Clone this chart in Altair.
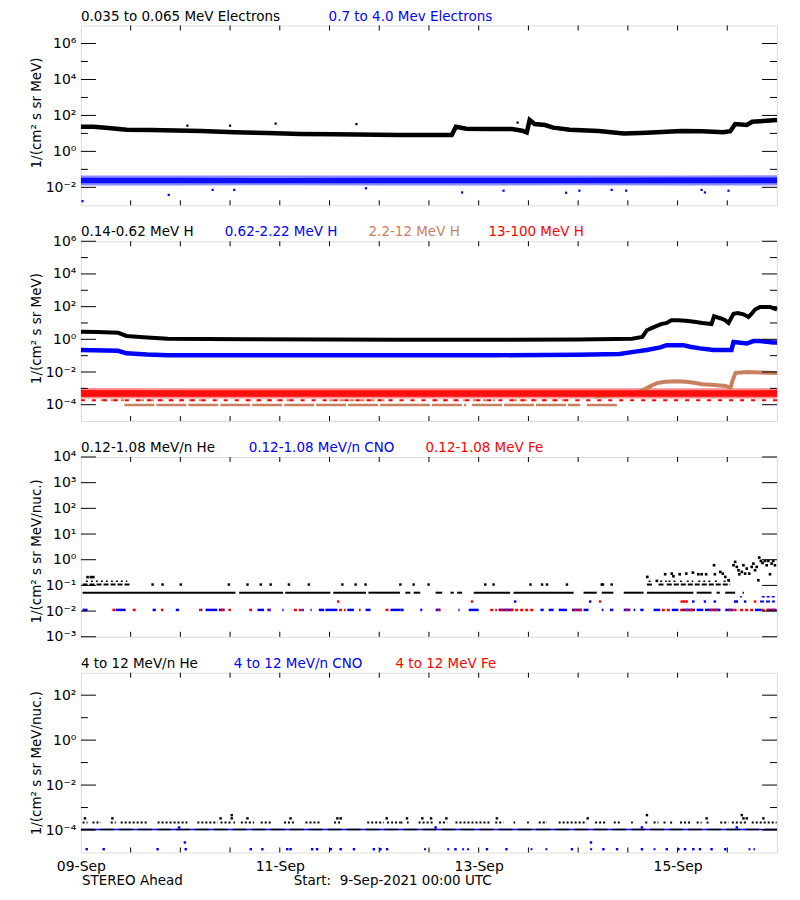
import json
import altair as alt
import pandas as pd

FONT = "DejaVu Sans"
W, H = 697, 180
T_END = 168  # hours from 09-Sep 00:00 UTC to 16-Sep 00:00 UTC

# ---------------- x axis ----------------
X_MINOR = [12, 24, 36, 48, 60, 72, 84, 96, 108, 120, 132, 144, 156]
X_LABEL_T = [0, 48, 96, 144]
X_LABELS = ["09-Sep", "11-Sep", "13-Sep", "15-Sep"]

# ---------------- panel 1 : electrons ----------------
E1_T = [0, 3, 6, 11, 17, 29, 37, 45, 53, 61, 77, 89.5, 90.5, 93, 98, 104, 106.5, 107.6,
        108.3, 109.5, 112, 114, 118, 125, 131, 135, 139, 145, 150, 155, 156.7, 157.9,
        160.7, 162, 165.5, 168]
E1_V = [23.4, 23.4, 20.9, 15.8, 15.5, 13.5, 11.5, 10.5, 9.3, 8.9, 8.1, 8.1, 23.4, 18.2,
        17.4, 17.4, 14.1, 11.2, 55, 33, 29, 21, 15.8, 13.5, 10.0, 10.5, 11.5, 13.8, 13.2,
        11.5, 13.2, 33, 29.5, 44.7, 50, 55]
E1_OUT_T = [25.7, 36.0, 47.0, 66.5, 105.4]
E1_OUT_V = [27, 27, 35, 33, 40]

E2_T = [0, 24, 48, 72, 96, 120, 144, 168]
E2_LO = [0.0125, 0.0125, 0.013, 0.0125, 0.0125, 0.013, 0.0125, 0.0125]
E2_HI = [0.046, 0.045, 0.045, 0.046, 0.046, 0.045, 0.046, 0.047]
E2_CORE_LO = [0.017, 0.017, 0.017, 0.017, 0.017, 0.017, 0.017, 0.017]
E2_CORE_HI = [0.034, 0.034, 0.033, 0.034, 0.034, 0.034, 0.035, 0.035]
E2_OUT_T = [0.4, 21.2, 31.8, 37.0, 68.8, 92.0, 102.0, 117.1, 120.3, 128.1, 131.6, 149.8, 150.6, 156.3]
E2_OUT_V = [0.0017, 0.0038, 0.0072, 0.0072, 0.0089, 0.0052, 0.0065, 0.0050, 0.0065, 0.0072,
            0.0065, 0.0072, 0.0052, 0.0065]

# ---------------- panel 2 : protons ----------------
H1_T = [0, 4, 9, 11, 16, 21, 40, 60, 77, 100, 120, 133, 135.5, 136.6, 138, 140, 141.4,
        142.5, 144, 146, 148, 150, 152.2, 152.8, 154.3, 155.5, 156.3, 157.5, 158.5, 159.9,
        161.1, 161.9, 162.7, 163.9, 166.3, 168]
H1_V = [2.9, 2.8, 2.5, 1.6, 1.3, 1.07, 1.0, 0.98, 0.95, 0.95, 0.98, 1.1, 1.4, 3.6, 5.2,
        8.5, 10.0, 14.8, 14.8, 13.8, 12.0, 10.0, 8.7, 25.7, 19.5, 14.8, 10.0, 37, 40.7, 34,
        23.4, 37, 66, 95, 95, 66]

H2_T = [0, 9, 11, 16, 21, 60, 100, 120, 130, 133.4, 136.6, 139.8, 141.4, 145.4, 147,
        149.4, 152.7, 155.9, 157.0, 157.5, 160.7, 162.3, 163.9, 167.1, 168]
H2_V = [0.22, 0.2, 0.14, 0.117, 0.107, 0.107, 0.107, 0.112, 0.126, 0.17, 0.22, 0.32,
        0.44, 0.44, 0.35, 0.28, 0.22, 0.22, 0.22, 0.69, 0.55, 0.78, 0.78, 0.63, 0.63]

BROWN = "#C9805F"
H3_LATE_T = [124, 130, 134, 136.5, 137.5, 139, 141, 144, 146, 148, 150, 153, 155.5, 156.8,
             157.3, 158, 161, 164, 166, 168]
H3_LATE_V = [3.2e-4, 4.0e-4, 5.0e-4, 1.0e-3, 1.4e-3, 2.1e-3, 2.5e-3, 2.7e-3, 2.5e-3, 2.2e-3,
             1.8e-3, 1.6e-3, 1.4e-3, 1.1e-3, 3.2e-3, 8.9e-3, 1.0e-2, 9.3e-3, 8.9e-3, 8.7e-3]
H3_BASE_LEVEL = 9.5e-5
H3_BASE_SEG = [(10.5, 77.0), (77.0, 93.0), (94.4, 120.5), (122.1, 129.4)]
H3_MID_LEVEL = 1.9e-4
H3_MID_SEG = [(4.8, 10.5), (14.0, 30.0), (40.0, 52.0), (60.0, 75.0), (85.0, 100.0), (104.0, 118.0)]
H3_EARLY_LEVEL = 4.0e-4
H3_EARLY_SEG = [(0.4, 4.0), (5.0, 9.0)]

H4_T = [0, 24, 48, 72, 96, 120, 144, 168]
H4_LO = [2.4e-4, 2.4e-4, 2.4e-4, 2.4e-4, 2.4e-4, 2.4e-4, 2.4e-4, 2.4e-4]
H4_HI = [1.05e-3, 1.0e-3, 1.0e-3, 1.0e-3, 1.0e-3, 1.0e-3, 1.0e-3, 1.0e-3]
H4_CORE_LO = [3.1e-4, 3.1e-4, 3.1e-4, 3.1e-4, 3.1e-4, 3.1e-4, 3.1e-4, 3.1e-4]
H4_CORE_HI = [7.8e-4, 7.6e-4, 7.6e-4, 7.6e-4, 7.6e-4, 7.6e-4, 7.6e-4, 7.8e-4]
H4_LOW_LEVEL = 1.9e-4

# ---------------- panel 3 : 0.12-1.08 MeV/n ions ----------------
HE_LOW_LEVEL = 0.052
HE_LOW_SEG = [(0.4, 37.3), (38.2, 48.8), (49.3, 60.2), (60.9, 68.8), (69.4, 77.0), (78.3, 79.5),
              (80.3, 81.9), (85.6, 87.2), (89.2, 90.0), (90.8, 92.0), (94.8, 103.6),
              (104.4, 118.9), (121.3, 124.5), (125.7, 128.5), (131.0, 135.8), (136.6, 147.8),
              (148.6, 152.2), (153.4, 154.2), (155.5, 157.9), (159.7, 160.0)]
HE_MID_LEVEL = 0.108
HE_MID_SEG = [(0.4, 12.0), (136.6, 138.2), (139.4, 140.6), (141.4, 156.7)]
HE_MID_DOTS = [17.3, 19.7, 24.1, 35.7, 40.2, 43.4, 45.8, 50.2, 55.0, 63.1, 66.3, 68.7, 77.1,
               80.3, 83.9, 97.6, 99.6, 108.5, 111.3, 112.5, 117.3, 125.7, 126.0, 128.1]
HE_UP_LEVEL = 0.145
HE_UP_SEG = [(1.2, 11.2), (137.0, 138.2), (139.8, 141.4), (141.8, 143.8), (144.6, 145.4),
             (146.2, 147.8), (149.0, 152.2), (153.0, 153.9), (155.1, 156.7)]
HE_PTS_T = [1.6, 2.4, 3.0, 136.7, 139.0, 141.0, 142.6, 143.0, 144.5, 146.1, 147.7, 149.0,
            149.8, 150.9, 152.8, 153.0, 154.3, 154.9, 155.5, 156.3, 157.5, 157.9, 158.3,
            158.7, 158.9, 159.5, 159.9, 160.3, 160.7, 161.3, 161.9, 162.3, 162.7, 163.1,
            163.5, 163.7, 164.1, 164.5, 165.1, 165.5, 165.9, 166.3, 166.7, 167.1, 167.5]
HE_PTS_V = [0.21, 0.21, 0.21, 0.214, 0.15, 0.272, 0.288, 0.227, 0.272, 0.288, 0.315, 0.272,
            0.272, 0.272, 0.609, 0.272, 0.335, 0.288, 0.214, 0.159, 0.609, 0.82, 0.525,
            0.389, 0.272, 0.335, 0.609, 0.288, 0.452, 0.288, 0.525, 0.706, 0.389, 0.525,
            0.159, 1.21, 0.897, 0.75, 0.897, 0.609, 0.897, 0.272, 0.706, 0.897, 0.609]

ION_LEVEL = 0.0111
CNO_SEG = [(0.4, 1.6), (8.4, 10.8), (17.3, 18.1), (22.9, 23.7), (28.9, 29.3), (30.1, 32.9),
           (33.3, 34.7), (42.6, 44.2), (45.0, 45.8), (48.6, 48.9), (53.4, 53.8), (55.4, 55.7),
           (57.4, 58.7), (59.0, 61.9), (64.3, 65.9), (68.7, 69.9), (74.7, 77.1), (77.1, 77.9),
           (81.9, 82.4), (85.6, 86.8), (91.1, 91.4), (93.6, 96.0), (100.8, 104.4),
           (110.9, 111.7), (112.9, 114.1), (115.3, 117.3), (118.5, 120.9), (121.3, 122.5),
           (125.7, 126.1), (127.7, 128.5), (131.0, 132.6), (133.4, 133.8), (135.0, 135.8),
           (138.2, 139.8), (142.6, 144.2), (145.0, 148.2), (148.6, 150.2), (150.6, 154.3),
           (155.5, 157.5), (162.7, 164.3), (165.5, 167.9)]
FE_SEG = [(7.6, 8.4), (12.5, 13.3), (19.3, 19.9), (28.5, 28.9), (33.7, 34.7), (35.6, 36.2),
          (40.6, 41.4), (45.4, 45.8), (51.4, 53.4), (62.3, 63.9), (67.1, 67.5), (73.5, 74.3),
          (86.0, 86.6), (98.8, 100.4), (101.2, 109.3), (118.9, 120.9), (131.4, 132.6),
          (140.2, 142.2), (144.6, 147.8), (151.8, 154.3), (156.3, 158.3), (159.1, 162.3),
          (164.3, 167.9)]
ION_MID_LEVEL = 0.0235
CNO_MID_T = [104.8, 122.9, 147.8, 150.6, 153.0, 157.9, 158.3, 160.3]
FE_MID_T = [62.1, 94.4, 125.3, 145.0, 145.6, 146.2, 162.7]
CNO_MID_SEG = [(163.9, 167.5)]
CNO_HI_LEVEL = 0.036
CNO_HI_SEG = [(159.1, 159.5), (164.3, 167.5)]

# ---------------- panel 4 : 4-12 MeV/n ions ----------------
HE4_LEVEL = 2.15e-4
HE4_SEG = [(0.4, 1.6), (2.8, 4.8), (7.2, 8.4), (9.6, 16.1), (18.5, 25.7), (28.1, 33.0),
           (33.7, 36.2), (36.8, 37.2), (38.6, 41.8), (43.4, 45.8), (49.0, 51.4), (54.2, 57.8),
           (61.1, 62.7), (69.1, 73.1), (73.9, 77.1), (77.1, 77.9), (78.7, 79.1), (81.5, 85.2),
           (86.4, 88.4), (90.4, 98.8), (100.0, 102.0), (104.4, 104.8), (107.7, 108.1),
           (110.5, 112.5), (115.3, 122.1), (124.1, 127.0), (128.6, 130.2), (132.8, 133.2),
           (136.2, 137.0), (138.2, 139.4), (140.6, 141.4), (142.2, 143.0), (144.6, 147.0),
           (148.6, 149.8), (151.0, 151.8), (154.3, 156.3), (157.1, 160.7), (161.9, 167.9)]
HE4_PTS_T = [0.97, 7.6, 33.7, 36.4, 40.2, 50.6, 61.9, 62.7, 73.8, 78.7, 82.4, 84.5, 88.2,
             100.4, 122.3, 151.0, 159.9, 160.7, 164.7, 36.4, 136.6, 159.5]
HE4_PTS_V = [3.3e-4] * 19 + [4.6e-4] * 3
ONE_COUNT = 1.05e-4
CNO4_LOW_LEVEL = 1.4e-5
CNO4_LOW_T = [1.4, 5.5, 18.5, 25.3, 41.0, 43.8, 49.8, 50.6, 55.8, 57.0, 60.3, 62.7, 65.9,
              70.7, 72.3, 73.9, 90.4, 98.0, 102.7, 118.5, 126.1, 129.4, 135.4, 141.4, 144.2,
              145.8, 147.8, 149.4, 152.2, 155.5]
CNO4_LOW_SEG = [(82.8, 83.6), (88.4, 89.2), (92.0, 94.4), (108.5, 109.3), (112.1, 113.3),
                (122.9, 123.7), (138.2, 139.0), (161.1, 162.7)]
CNO4_OTHER_T = [25.1, 123.1, 23.7, 85.6, 135.4, 158.3]
CNO4_OTHER_V = [2.8e-5, 2.8e-5, 1.3e-4, 1.3e-4, 1.3e-4, 1.3e-4]

BLUE, RED = "#0000FF", "#FF0000"
TITLES = [
    [("0.035 to 0.065 MeV Electrons", "black", 0), ("0.7 to 4.0 Mev Electrons", BLUE, 248)],
    [("0.14-0.62 MeV H", "black", 0), ("0.62-2.22 MeV H", BLUE, 144),
     ("2.2-12 MeV H", BROWN, 288), ("13-100 MeV H", RED, 408)],
    [("0.12-1.08 MeV/n He", "black", 0), ("0.12-1.08 MeV/n CNO", BLUE, 168),
     ("0.12-1.08 MeV Fe", RED, 345)],
    [("4 to 12 MeV/n He", "black", 0), ("4 to 12 MeV/n CNO", BLUE, 153),
     ("4 to 12 MeV Fe", RED, 315)],
]
FOOTER = [("STEREO Ahead", 1), ("Start:\u00a0 9-Sep-2021 00:00 UTC", 213)]

SUP = str.maketrans("-0123456789", "⁻⁰¹²³⁴⁵⁶⁷⁸⁹")
EXP_RANGE = list(range(-5, 8))
SUP_ARR = json.dumps(["10" + str(e).translate(SUP) for e in EXP_RANGE], ensure_ascii=False)
Y_LABEL_EXPR = SUP_ARR + "[round(log(datum.value)/LN10)+5]"
X_LABEL_EXPR = "".join(f"datum.value=={t}?'{l}':" for t, l in zip(X_LABEL_T, X_LABELS)) + "''"


def df_line(t, v):
    return pd.DataFrame({"t": t, "v": v})


def df_seg(segs, level):
    return pd.DataFrame({"t": [a for a, b in segs], "t2": [b for a, b in segs],
                         "v": [level] * len(segs)})


def df_band(t, lo, hi):
    return pd.DataFrame({"t": t, "v": lo, "v2": hi})


def panel(layers_fn, ydomain, label_vals, minor_vals, ytitle, title_y, titles, bottom=False):
    xs = alt.Scale(domain=[0, T_END], nice=False, zero=False)
    ys = alt.Scale(type="log", domain=ydomain, nice=False)
    if bottom:
        xaxis = alt.Axis(values=X_LABEL_T, labelExpr=X_LABEL_EXPR, ticks=False, domain=False,
                         grid=False, labelFontSize=14, labelPadding=7, labelFlush=False,
                         labelColor="black", title=None, labelFont=FONT)
    else:
        xaxis = None
    yaxis = alt.Axis(values=label_vals, labelExpr=Y_LABEL_EXPR, ticks=False, domain=False,
                     grid=False, labelFontSize=14, labelPadding=5, labelFlush=False,
                     labelOverlap=False, labelColor="black", labelFont=FONT,
                     title=ytitle, titleX=-44, titleY=title_y, titleAngle=270,
                     titleAlign="center", titleBaseline="middle", titleFontSize=13.5,
                     titleFontWeight="normal", titleFont=FONT, titleColor="black")

    def X():
        return alt.X("t:Q", scale=xs, axis=xaxis, title=None)

    def Y():
        return alt.Y("v:Q", scale=ys, axis=yaxis)

    layers = layers_fn(X, Y)

    # inside ticks (IDL style)
    xt = pd.DataFrame({"t": X_MINOR})
    layers.append(alt.Chart(xt).mark_rule(color="black", strokeWidth=1).encode(
        x=X(), y=alt.value(0), y2=alt.value(5)))
    layers.append(alt.Chart(xt).mark_rule(color="black", strokeWidth=1).encode(
        x=X(), y=alt.value(H), y2=alt.value(H - 5)))
    for vals, ln in ((label_vals, 15), (minor_vals, 7)):
        if not vals:
            continue
        yt = pd.DataFrame({"v": vals})
        layers.append(alt.Chart(yt).mark_rule(color="black", strokeWidth=1).encode(
            y=Y(), x=alt.value(0), x2=alt.value(ln)))
        layers.append(alt.Chart(yt).mark_rule(color="black", strokeWidth=1).encode(
            y=Y(), x=alt.value(W), x2=alt.value(W - ln)))

    one = pd.DataFrame({"a": [0]})
    for txt, col, px in titles:
        layers.append(alt.Chart(one).mark_text(
            text=txt, color=col, fontSize=13.5, font=FONT, align="left", baseline="alphabetic"
        ).encode(x=alt.value(px), y=alt.value(-5)))
    if bottom:
        for txt, px in FOOTER:
            layers.append(alt.Chart(one).mark_text(
                text=txt, color="black", fontSize=13.5, font=FONT, align="left",
                baseline="alphabetic").encode(x=alt.value(px), y=alt.value(H + 33)))
    return alt.layer(*layers).properties(width=W, height=H)


def p1_layers(X, Y):
    return [
        alt.Chart(df_band(E2_T, E2_LO, E2_HI)).mark_area(color=BLUE, opacity=0.45).encode(
            x=X(), y=Y(), y2="v2:Q"),
        alt.Chart(df_band(E2_T, E2_CORE_LO, E2_CORE_HI)).mark_area(color=BLUE, opacity=0.9).encode(
            x=X(), y=Y(), y2="v2:Q"),
        alt.Chart(df_line(E2_OUT_T, E2_OUT_V)).mark_square(color=BLUE, size=5, opacity=1).encode(
            x=X(), y=Y()),
        alt.Chart(df_line(E1_T, E1_V)).mark_line(color="black", strokeWidth=4.5).encode(
            x=X(), y=Y()),
        alt.Chart(df_line(E1_OUT_T, E1_OUT_V)).mark_square(color="black", size=5, opacity=1).encode(
            x=X(), y=Y()),
    ]


def p2_layers(X, Y):
    return [
        alt.Chart(df_seg(H3_BASE_SEG, H3_BASE_LEVEL)).mark_rule(color=BROWN, strokeWidth=2.5,
                                                                 strokeDash=[30, 2]).encode(
            x=X(), x2="t2:Q", y=Y()),
        alt.Chart(df_seg(H3_MID_SEG, H3_MID_LEVEL)).mark_rule(color=BROWN, strokeWidth=2,
                                                               strokeDash=[5, 5]).encode(
            x=X(), x2="t2:Q", y=Y()),
        alt.Chart(df_seg(H3_EARLY_SEG, H3_EARLY_LEVEL)).mark_rule(color=BROWN, strokeWidth=3).encode(
            x=X(), x2="t2:Q", y=Y()),
        alt.Chart(df_seg([(0, T_END)], H4_LOW_LEVEL)).mark_rule(color=RED, strokeWidth=2,
                                                                 strokeDash=[4, 7]).encode(
            x=X(), x2="t2:Q", y=Y()),
        alt.Chart(df_band(H4_T, H4_LO, H4_HI)).mark_area(color=RED, opacity=0.45).encode(
            x=X(), y=Y(), y2="v2:Q"),
        alt.Chart(df_line(H3_LATE_T, H3_LATE_V)).mark_line(color=BROWN, strokeWidth=4).encode(
            x=X(), y=Y()),
        alt.Chart(df_band(H4_T, H4_CORE_LO, H4_CORE_HI)).mark_area(color=RED, opacity=0.9).encode(
            x=X(), y=Y(), y2="v2:Q"),
        alt.Chart(df_line(H2_T, H2_V)).mark_line(color=BLUE, strokeWidth=4.5).encode(
            x=X(), y=Y()),
        alt.Chart(df_line(H1_T, H1_V)).mark_line(color="black", strokeWidth=4).encode(
            x=X(), y=Y()),
    ]


def p3_layers(X, Y):
    return [
        alt.Chart(df_seg(CNO_SEG, ION_LEVEL)).mark_rule(color=BLUE, strokeWidth=2.5).encode(
            x=X(), x2="t2:Q", y=Y()),
        alt.Chart(df_seg(FE_SEG, ION_LEVEL)).mark_rule(color=RED, strokeWidth=2.5,
                                                       strokeDash=[3, 2]).encode(
            x=X(), x2="t2:Q", y=Y()),
        alt.Chart(df_line(CNO_MID_T, [ION_MID_LEVEL] * len(CNO_MID_T))).mark_square(
            color=BLUE, size=6, opacity=1).encode(x=X(), y=Y()),
        alt.Chart(df_seg(CNO_MID_SEG, ION_MID_LEVEL)).mark_rule(color=BLUE, strokeWidth=2,
                                                                strokeDash=[4, 2]).encode(
            x=X(), x2="t2:Q", y=Y()),
        alt.Chart(df_line(FE_MID_T, [ION_MID_LEVEL] * len(FE_MID_T))).mark_square(
            color=RED, size=6, opacity=1).encode(x=X(), y=Y()),
        alt.Chart(df_seg(CNO_HI_SEG, CNO_HI_LEVEL)).mark_rule(color=BLUE, strokeWidth=1.5,
                                                              strokeDash=[3, 2]).encode(
            x=X(), x2="t2:Q", y=Y()),
        alt.Chart(df_seg(HE_LOW_SEG, HE_LOW_LEVEL)).mark_rule(color="black", strokeWidth=2).encode(
            x=X(), x2="t2:Q", y=Y()),
        alt.Chart(df_seg(HE_MID_SEG, HE_MID_LEVEL)).mark_rule(color="black", strokeWidth=2,
                                                              strokeDash=[5, 2]).encode(
            x=X(), x2="t2:Q", y=Y()),
        alt.Chart(df_line(HE_MID_DOTS, [HE_MID_LEVEL] * len(HE_MID_DOTS))).mark_square(
            color="black", size=6, opacity=1).encode(x=X(), y=Y()),
        alt.Chart(df_seg(HE_UP_SEG, HE_UP_LEVEL)).mark_rule(color="black", strokeWidth=1.5,
                                                            strokeDash=[2, 3]).encode(
            x=X(), x2="t2:Q", y=Y()),
        alt.Chart(df_line(HE_PTS_T, HE_PTS_V)).mark_square(color="black", size=7, opacity=1).encode(
            x=X(), y=Y()),
    ]


def p4_layers(X, Y):
    return [
        alt.Chart(df_seg([(0, T_END)], ONE_COUNT)).mark_rule(color=BLUE, strokeWidth=1.5).encode(
            x=X(), x2="t2:Q", y=Y()),
        alt.Chart(df_seg([(0, T_END)], ONE_COUNT)).mark_rule(color="black", strokeWidth=1.5,
                                                             strokeDash=[14, 5]).encode(
            x=X(), x2="t2:Q", y=Y()),
        alt.Chart(df_seg(HE4_SEG, HE4_LEVEL)).mark_rule(color="black", strokeWidth=2,
                                                        strokeDash=[2, 2]).encode(
            x=X(), x2="t2:Q", y=Y()),
        alt.Chart(df_line(HE4_PTS_T, HE4_PTS_V)).mark_square(color="black", size=6, opacity=1).encode(
            x=X(), y=Y()),
        alt.Chart(df_line(CNO4_LOW_T, [CNO4_LOW_LEVEL] * len(CNO4_LOW_T))).mark_square(
            color=BLUE, size=6, opacity=1).encode(x=X(), y=Y()),
        alt.Chart(df_seg(CNO4_LOW_SEG, CNO4_LOW_LEVEL)).mark_rule(color=BLUE, strokeWidth=2,
                                                                  strokeDash=[2, 3]).encode(
            x=X(), x2="t2:Q", y=Y()),
        alt.Chart(df_line(CNO4_OTHER_T, CNO4_OTHER_V)).mark_square(color=BLUE, size=6, opacity=1).encode(
            x=X(), y=Y()),
    ]


U1 = "1/(cm² s sr MeV)"
U2 = "1/(cm² s sr MeV/nuc.)"

p1 = panel(p1_layers, [1e-3, 1e7], [1e-2, 1e0, 1e2, 1e4, 1e6], [1e-1, 1e1, 1e3, 1e5],
           U1, 87, TITLES[0])
p2 = panel(p2_layers, [1e-5, 1e6], [1e-4, 1e-2, 1e0, 1e2, 1e4, 1e6], [1e-3, 1e-1, 1e1, 1e3, 1e5],
           U1, 87, TITLES[1])
p3 = panel(p3_layers, [1e-3, 1e4], [1e-3, 1e-2, 1e-1, 1e0, 1e1, 1e2, 1e3, 1e4], [],
           U2, 94, TITLES[2])
p4 = panel(p4_layers, [1e-5, 1e3], [1e-4, 1e-2, 1e0, 1e2], [1e-3, 1e-1, 1e1],
           U2, 90, TITLES[3], bottom=True)

chart = alt.vconcat(p1, p2, p3, p4, spacing=36, bounds="flush").properties(
    padding={"left": 21, "top": 0, "right": 5, "bottom": 0}
).configure_view(stroke="black", strokeWidth=1).configure(background="white")

chart.save("out.html", embed_options={"renderer": "svg", "actions": False})
